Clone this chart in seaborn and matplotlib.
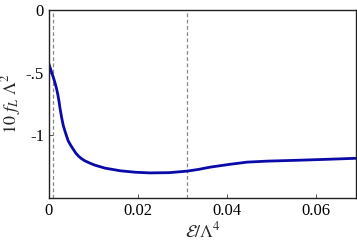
import numpy as np
import pandas as pd
import matplotlib
matplotlib.use('Agg')
import matplotlib.pyplot as plt
import seaborn as sns

# values
energy = [0.0, 0.0005, 0.00097, 0.00135, 0.00173, 0.002, 0.00225, 0.0025, 0.00285,
          0.0032, 0.0036, 0.004, 0.00434, 0.0049, 0.00546, 0.006, 0.00658, 0.0073,
          0.0081, 0.0092, 0.0103, 0.0126, 0.016, 0.0195, 0.0227, 0.027, 0.031,
          0.0336, 0.0362, 0.0405, 0.0445, 0.049, 0.055, 0.062, 0.0692]
fL = [-0.43, -0.485, -0.535, -0.578, -0.63, -0.675, -0.725, -0.785, -0.857,
      -0.918, -0.966, -1.01, -1.045, -1.08, -1.111, -1.14, -1.164, -1.186,
      -1.204, -1.222, -1.238, -1.262, -1.283, -1.295, -1.30, -1.298, -1.286,
      -1.272, -1.254, -1.232, -1.214, -1.206, -1.200, -1.192, -1.183]
vlines = [0.0009, 0.031]
xticks = [0, 0.02, 0.04, 0.06]
xticklabels = ['0', '0.02', '0.04', '0.06']
yticks = [0, -0.5, -1]
yticklabels = ['0', '-.5', '-1']

df = pd.DataFrame({'E': energy, 'f': fL})

sns.set_style('ticks')
plt.rcParams['font.family'] = ['Liberation Serif', 'DejaVu Serif']
plt.rcParams['mathtext.fontset'] = 'stix'

fig = plt.figure(figsize=(3.57, 2.45), dpi=100)
ax = fig.add_axes([0.137, 0.192, 0.861, 0.767])

for v in vlines:
    ax.axvline(v, color='#888888', lw=0.9, ls=(0, (3, 2)))
sns.lineplot(data=df, x='E', y='f', ax=ax, color='#0a0aa8', lw=2)

ax.set_xlim(0, 0.069)
ax.set_ylim(-1.5, 0)
ax.set_xticks(xticks)
ax.set_xticklabels(xticklabels)
ax.set_yticks(yticks)
ax.set_yticklabels(yticklabels)
ax.tick_params(direction='in', length=3, width=0.6, labelsize=12, colors='#333333',
               labelcolor='black')
for s in ax.spines.values():
    s.set_linewidth(1.0)
    s.set_color('#222222')

ax.set_xlabel(r'$\mathcal{E}/\Lambda^4$', fontsize=13, labelpad=2)
ax.set_ylabel(r'$10\ f_L\ \Lambda^2$', fontsize=13, labelpad=2)

fig.savefig('out.png', dpi=100)
